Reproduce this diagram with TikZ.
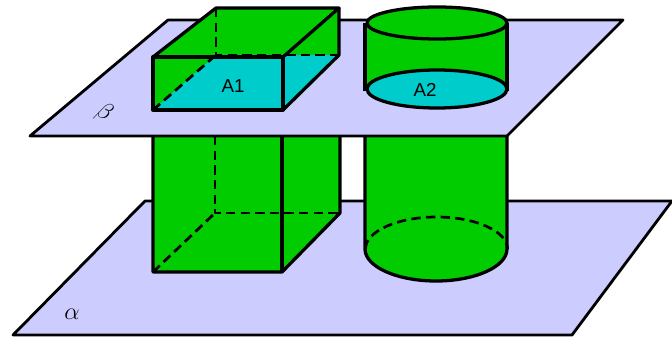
\documentclass[tikz,border=0pt]{standalone}
\usepackage{fontspec}
\setsansfont{Liberation Sans}
\definecolor{planec}{RGB}{204,204,255}
\definecolor{solidg}{RGB}{0,204,0}
\definecolor{sectc}{RGB}{0,204,204}
\begin{document}
\begin{tikzpicture}[x=0.03cm,y=-0.03cm,line join=round,
  plane/.style={fill=planec,draw=black,line width=2.4pt},
  edge/.style={draw=black,line width=2.8pt},
  hidden/.style={draw=black,line width=2.3pt,dash pattern=on 8pt off 4.5pt},
  lbl/.style={font=\sffamily\fontsize{16}{19}\selectfont,inner sep=0pt},
  glabel/.style={font=\fontsize{20}{24}\selectfont,inner sep=0pt}]
\useasboundingbox (0,0) rectangle (672,342);

% lower plane alpha
\filldraw[plane] (13,335) -- (572,335) -- (672,201) -- (145,201) -- cycle;
\node[glabel] (alpha) at (72,314) {$\alpha$};

% prism, part below beta
\fill[solidg] (153,136) -- (153,272) -- (282,272) -- (340,213) -- (340,136) -- cycle;
\draw[hidden] (215,136) -- (215,213) -- (340,213);
\draw[hidden] (153,272) -- (215,213);
\draw[edge] (153,136) -- (153,272) -- (282,272) -- (340,213) -- (340,136);
\draw[edge] (282,136) -- (282,272);

% cylinder, part below beta
\fill[solidg] (365,136) -- (365,249) arc[start angle=180,end angle=360,x radius=71,y radius=-32] -- (507,136) -- cycle;
\draw[hidden] (365.5,249) arc[start angle=180,end angle=0,x radius=71,y radius=-32];
\draw[edge] (365,136) -- (365,249) arc[start angle=180,end angle=360,x radius=71,y radius=-32] -- (507,136);

% upper plane beta
\filldraw[plane] (30,136) -- (507,136) -- (623,20) -- (168,20) -- cycle;
\node[glabel,rotate=-30] (beta) at (104,113) {$\beta$};

% prism, part above beta, with the section A1
\fill[solidg] (153,57) -- (216,8) -- (339,8) -- (339,55) -- (283,110) -- (153,110) -- cycle;
\fill[sectc] (153,110) -- (283,110) -- (339,55) -- (216,55) -- cycle;
\draw[hidden] (216,8) -- (216,55) -- (339,55);
\draw[hidden] (153,110) -- (216,55);
\draw[edge] (153,57) rectangle (283,110);
\draw[edge] (153,57) -- (216,8) -- (339,8) -- (283,57);
\draw[edge] (339,8) -- (339,55) -- (283,110);
\node[lbl] (A1) at (233,86) {A1};

% cylinder, part above beta, with the section A2
\fill[solidg] (365,23) rectangle (507,89);
\draw[edge] (365,23) -- (365,91);
\draw[edge] (507,23) -- (507,91);
\filldraw[fill=sectc,draw=black,line width=2.8pt] (437,89) ellipse[x radius=70,y radius=19];
\filldraw[fill=solidg,draw=black,line width=2.8pt] (437,23) ellipse[x radius=70,y radius=16];
\node[lbl] (A2) at (425,90) {A2};
\end{tikzpicture}
\end{document}
